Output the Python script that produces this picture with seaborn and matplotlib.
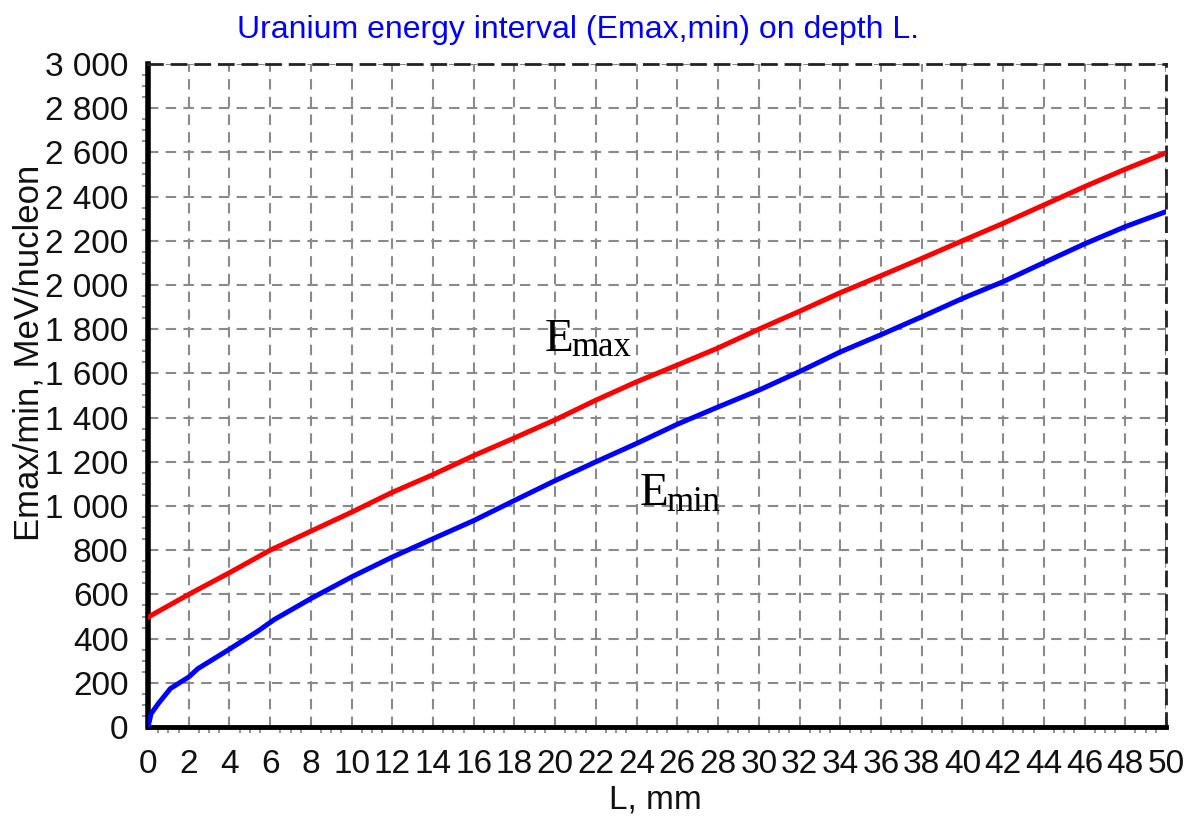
import numpy as np
import pandas as pd
import matplotlib
matplotlib.use("Agg")
import matplotlib.pyplot as plt
from matplotlib.ticker import MultipleLocator
from matplotlib.transforms import ScaledTranslation
import seaborn as sns

# Depth (mm) and energy (MeV/nucleon) samples for the two curves
depth_max = [0, 2, 4, 6, 8, 10, 12, 14, 16, 18, 20, 22, 24, 26, 28, 30,
             32, 34, 36, 38, 40, 42, 44, 46, 48, 50]
energy_max = [497, 600, 698, 800, 886, 972, 1062, 1142, 1228, 1308, 1390,
              1479, 1562, 1638, 1715, 1800, 1881, 1965, 2042, 2120, 2200,
              2279, 2362, 2445, 2524, 2598]

depth_min = [0, 0.15, 0.5, 1.1, 2, 2.45, 4, 5.4, 6.2, 8, 10, 12, 14, 16, 18,
             20, 22, 24, 26, 28, 30, 32, 34, 36, 38, 40, 42, 44, 46, 48, 50]
energy_min = [0, 60, 105, 174, 226, 264, 352, 434, 486, 581, 679, 769, 852,
              934, 1025, 1115, 1200, 1283, 1370, 1448, 1524, 1608, 1697,
              1775, 1856, 1939, 2015, 2101, 2186, 2264, 2332]

x_ticks = list(range(0, 51, 2))
y_ticks = list(range(0, 3001, 200))
y_tick_labels = ["0", "200", "400", "600", "800", "1 000", "1 200", "1 400",
                 "1 600", "1 800", "2 000", "2 200", "2 400", "2 600",
                 "2 800", "3 000"]

title = "Uranium energy interval (Emax,min) on depth L."
x_label = "L, mm"
y_label = "Emax/min, MeV/nucleon"

df = pd.concat([
    pd.DataFrame({"L": depth_max, "E": energy_max, "curve": "Emax"}),
    pd.DataFrame({"L": depth_min, "E": energy_min, "curve": "Emin"}),
], ignore_index=True)

sns.set_theme(style="white")
plt.rcParams["font.family"] = ["Liberation Sans", "DejaVu Sans"]

fig = plt.figure(figsize=(11.96, 8.18), dpi=100)
ax = fig.add_axes([148 / 1196, 1 - 727 / 818, (1166 - 148) / 1196, (727 - 64) / 818])

sns.lineplot(data=df, x="L", y="E", hue="curve",
             palette={"Emax": "#ff0000", "Emin": "#0000ff"},
             linewidth=3.6, legend=False, ax=ax, sort=False, estimator=None, zorder=3)

ax.set_xlim(0, 50)
ax.set_ylim(0, 3000)
ax.set_xticks(x_ticks)
ax.set_xticklabels([str(v) for v in x_ticks])
ax.set_yticks(y_ticks)
ax.set_yticklabels(y_tick_labels)
ax.xaxis.set_minor_locator(MultipleLocator(0.5))
ax.yaxis.set_minor_locator(MultipleLocator(50))

ax.grid(True, which="major", color="#8a8a8a", linestyle=(0, (5, 3.5)), linewidth=1.5, zorder=1)

ax.tick_params(axis="both", which="major", direction="out", colors="#808080",
               labelcolor="#111111", labelsize=24, width=1.5)
ax.tick_params(axis="x", which="major", length=10, pad=6)
ax.tick_params(axis="y", which="major", length=9, pad=5)
ax.tick_params(axis="both", which="minor", direction="out", colors="#808080", length=4, width=1.2)
ax.tick_params(axis="x", which="minor", bottom=True)
ax.tick_params(axis="y", which="minor", left=True)

for side in ("left", "bottom"):
    ax.spines[side].set_color("black")
ax.spines["left"].set_linewidth(4)
ax.spines["bottom"].set_linewidth(3.5)
for side in ("top", "right"):
    ax.spines[side].set_color("#222222")
    ax.spines[side].set_linewidth(2)
    ax.spines[side].set_linestyle((0, (5, 3.5)))

fig.text(578 / 1196, 1 - 30 / 818, title, color="#0000ff", fontsize=23,
         ha="center", va="center")
ax.set_xlabel(x_label, fontsize=24, color="#111111")
ax.set_ylabel(y_label, fontsize=25, color="#111111")
ax.xaxis.set_label_coords(0.498, -0.086)
ax.yaxis.set_label_coords(-0.101, 0.565)

serif = ["Liberation Serif", "DejaVu Serif"]
sub_max = ax.transData + ScaledTranslation(0, -5 / 100, fig.dpi_scale_trans)
sub_min = ax.transData + ScaledTranslation(0, -6 / 100, fig.dpi_scale_trans)
ax.text(19.5, 1700, "E", family=serif, fontsize=34, color="black", va="baseline", zorder=4)
ax.text(20.8, 1700, "max", family=serif, fontsize=25, color="black", va="baseline",
        transform=sub_max, zorder=4)
ax.text(24.15, 1004, "E", family=serif, fontsize=34, color="black", va="baseline", zorder=4)
ax.text(25.45, 1004, "min", family=serif, fontsize=25, color="black", va="baseline",
        transform=sub_min, zorder=4)

fig.savefig("out.png", dpi=100, facecolor="white")
